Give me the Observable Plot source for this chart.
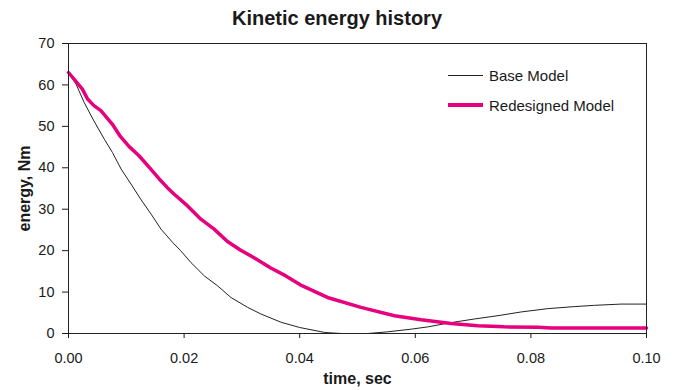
<!DOCTYPE html>
<html>
<head>
<meta charset="utf-8">
<script src="https://cdn.jsdelivr.net/npm/d3@7"></script>
<script src="https://cdn.jsdelivr.net/npm/@observablehq/plot@0.6"></script>
<style>
  html, body { margin: 0; padding: 0; background: #fff; }
  #wrap { position: relative; width: 695px; height: 390px; font-family: "Liberation Sans", Arial, sans-serif; color: #1a1a1a; }
  #title { position: absolute; left: 0; top: 8px; width: 674px; text-align: center; font-weight: bold; font-size: 20px; line-height: 20px; }
  .leg { position: absolute; display: flex; align-items: center; height: 20px; font-size: 15px; white-space: nowrap; }
  .sw { display: inline-block; width: 35px; margin-right: 6px; }
  svg [aria-label="x-axis label"] text, svg [aria-label="y-axis label"] text { font-weight: bold; font-size: 16px; }
</style>
</head>
<body>
<div id="wrap">
  <div id="chart"></div>
  <div id="title">Kinetic energy history</div>
  <div id="legend"></div>
</div>
<script>
// ---- data ----
const seriesNames = ["Base Model", "Redesigned Model"];
const seriesColors = ["#222222", "#E6007E"];

const timeBase = [0, 0.0013, 0.0027, 0.0044, 0.0062, 0.0076, 0.0091, 0.0108, 0.0125, 0.0143, 0.016, 0.018, 0.0194, 0.0212, 0.0235, 0.0258, 0.0281, 0.031, 0.0333, 0.0368, 0.04, 0.0443, 0.0472, 0.0518, 0.0552, 0.0593, 0.0622, 0.0656, 0.0702, 0.0743, 0.0783, 0.0829, 0.0876, 0.091, 0.0956, 0.1];
const energyBase = [63.0, 60.2, 55.8, 51.3, 46.9, 43.7, 39.7, 36.1, 32.4, 28.8, 25.2, 22.0, 20.0, 17.1, 13.9, 11.5, 8.7, 6.3, 4.7, 2.7, 1.45, 0.25, 0.0, 0.0, 0.4, 1.05, 1.6, 2.5, 3.5, 4.3, 5.2, 6.0, 6.5, 6.8, 7.1, 7.1];

const timeRedesigned = [0, 0.0024, 0.0033, 0.0044, 0.0056, 0.0076, 0.009, 0.0105, 0.0122, 0.0139, 0.0157, 0.0171, 0.0183, 0.0206, 0.0229, 0.0252, 0.0275, 0.0298, 0.0321, 0.035, 0.0376, 0.0401, 0.0448, 0.0506, 0.0564, 0.061, 0.0662, 0.0708, 0.0754, 0.0812, 0.0835, 0.1];
const energyRedesigned = [63.0, 59.0, 56.6, 55.0, 53.8, 50.5, 47.5, 45.1, 42.9, 40.2, 37.3, 35.2, 33.6, 30.8, 27.6, 25.2, 22.2, 20.1, 18.3, 15.8, 13.9, 11.75, 8.7, 6.3, 4.3, 3.3, 2.4, 1.85, 1.6, 1.5, 1.3, 1.3];

const xTicks = [0, 0.02, 0.04, 0.06, 0.08, 0.1];
const yTicks = [0, 10, 20, 30, 40, 50, 60, 70];

// ---- build tables ----
const baseData = timeBase.map((t, i) => ({t, v: energyBase[i]}));
const redData = timeRedesigned.map((t, i) => ({t, v: energyRedesigned[i]}));

const chart = Plot.plot({
  width: 695,
  height: 390,
  marginLeft: 68,
  marginRight: 49,
  marginTop: 43,
  marginBottom: 57,
  style: {fontFamily: "'Liberation Sans', Arial, sans-serif", fontSize: "14.5px", color: "#1a1a1a", background: "white", overflow: "visible"},
  x: {domain: [0, 0.1], ticks: xTicks, tickFormat: d3.format(".2f"), tickSize: 5, tickPadding: 14, label: "time, sec", labelAnchor: "center", labelArrow: "none", labelOffset: 50},
  y: {domain: [0, 70], ticks: yTicks, tickFormat: d3.format("d"), tickSize: 6, tickPadding: 8, label: "energy, Nm", labelAnchor: "center", labelArrow: "none", labelOffset: 50},
  marks: [
    Plot.line(baseData, {x: "t", y: "v", stroke: seriesColors[0], strokeWidth: 1}),
    Plot.line(redData, {x: "t", y: "v", stroke: seriesColors[1], strokeWidth: 3.5}),
    Plot.frame({stroke: "#222", strokeWidth: 1})
  ]
});
document.getElementById("chart").appendChild(chart);

// ---- legend ----
const legend = document.getElementById("legend");
const legendTops = [65, 95];
const legendWidths = [1, 4];
seriesNames.forEach((name, i) => {
  const row = document.createElement("div");
  row.className = "leg";
  row.style.left = "448px";
  row.style.top = legendTops[i] + "px";
  const sw = document.createElement("span");
  sw.className = "sw";
  sw.style.height = legendWidths[i] + "px";
  sw.style.background = seriesColors[i];
  const tx = document.createElement("span");
  tx.textContent = name;
  row.appendChild(sw);
  row.appendChild(tx);
  legend.appendChild(row);
});
</script>
</body>
</html>
